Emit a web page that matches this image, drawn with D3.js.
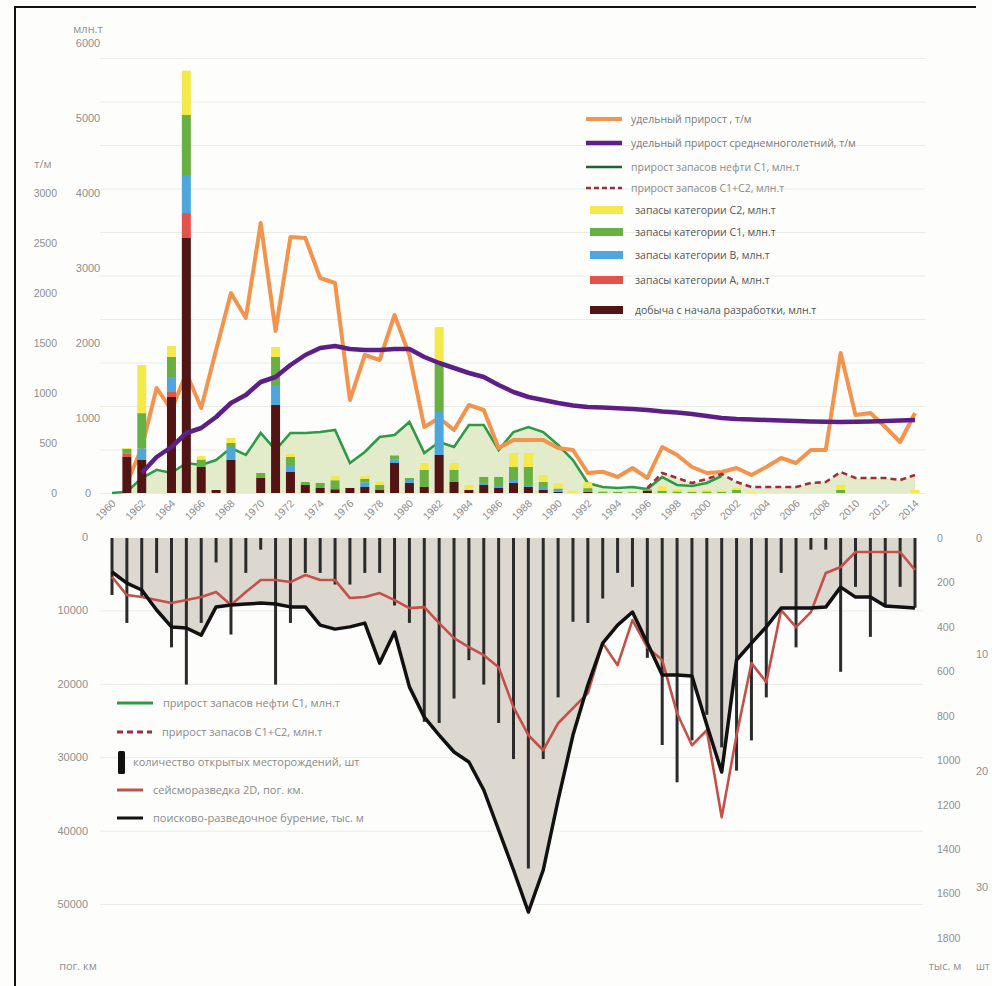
<!DOCTYPE html>
<html>
<head>
<meta charset="utf-8">
<script src="https://cdn.jsdelivr.net/npm/d3@7/dist/d3.min.js"></script>
<style>
  body { margin: 0; background: #fdfdfb; }
  svg { display: block; font-family: "Open Sans", "Noto Sans", sans-serif; }
</style>
</head>
<body>
<div id="chart"></div>
<script>
// Two stacked panels sharing one year axis: reserves / specific growth on top,
// exploration activity (seismic, drilling, discoveries) hanging down below.

const years = [1960,1961,1962,1963,1964,1965,1966,1967,1968,1969,1970,1971,1972,1973,1974,1975,1976,1977,1978,1979,
  1980,1981,1982,1983,1984,1985,1986,1987,1988,1989,1990,1991,1992,1993,1994,1995,1996,1997,1998,1999,
  2000,2001,2002,2003,2004,2005,2006,2007,2008,2009,2010,2011,2012,2013,2014];
const yearTicks = [1960,1962,1964,1966,1968,1970,1972,1974,1976,1978,1980,1982,1984,1986,1988,1990,1992,1994,1996,1998,
  2000,2002,2004,2006,2008,2010,2012,2014];

// stacked bars, млн.т
const production = [0,480,440,0,1280,3400,347,40,440,0, 200,1173,280,107,67,50,67,80,40,400,
  133,80,507,147,40,107,67,133,80,40, 15,0,15,0,0,0,30,0,0,0, 0,0,0,0,0,0,0,0,0,0, 0,0,0,0,0];
const catA = [0,50,0,0,67,333,0,0,0,0, 0,0,0,0,0,0,0,0,0,0, 0,0,0,0,0,0,0,0,0,0,
  0,0,0,0,0,0,0,0,0,0, 0,0,0,0,0,0,0,0,0,0, 0,0,0,0,0];
const catB = [0,0,155,0,187,507,0,0,160,0, 0,267,93,0,0,0,0,60,0,50, 40,0,573,0,0,27,40,40,27,40,
  25,0,0,0,0,0,0,0,0,0, 0,0,0,0,0,0,0,0,0,0, 0,0,0,0,0];
const catC1 = [0,60,470,0,280,800,100,0,67,0, 67,373,107,40,67,120,0,50,67,50, 27,227,653,160,0,80,107,173,240,67,
  20,0,50,20,15,10,20,30,20,15, 20,15,40,0,0,0,0,0,0,40, 0,0,0,0,0];
const catC2 = [0,10,640,0,147,590,45,0,67,0, 0,133,40,0,0,60,0,40,40,0, 0,93,480,93,67,0,0,187,187,93,
  70,30,80,10,0,10,0,60,30,20, 20,20,30,10,0,0,0,0,0,70, 0,0,0,0,40];

// specific growth, т/м
const specGrowth = [null,100,450,1050,830,1200,850,1430,2000,1750, 2700,1620,2560,2550,2150,2100,930,1380,1330,1780,
  1380,660,750,630,880,830,450,530,530,530, 450,430,200,213,160,250,150,460,380,260,
  200,210,250,180,260,350,300,430,430,1400, 780,800,660,510,800];
const specGrowthAvg = [null,null,200,360,460,600,650,760,900,980, 1110,1160,1280,1380,1450,1470,1440,1430,1430,1440,
  1440,1360,1300,1250,1200,1160,1080,1010,960,930, 900,875,860,855,848,840,830,815,805,790,
  770,750,740,735,730,725,720,715,712,710, 712,716,720,725,730];

// reserve growth lines, млн.т
const growthC1 = [0,17,200,310,267,400,373,440,600,507, 800,573,800,800,813,840,400,547,747,773,
  947,533,680,613,907,907,573,813,880,813, 640,440,133,80,67,80,53,213,107,93,
  133,227,null,null,null,null,null,null,null,null, null,null,null,null,null];
const growthC1C2 = [null,null,null,null,null,null,null,null,null,null, null,null,null,null,null,null,null,null,null,null,
  null,null,null,null,null,null,null,null,null,null, null,null,null,null,null,null,67,267,200,133,
  187,253,147,80,80,80,80,133,147,280, 200,200,200,173,240];

// lower panel
const seismic2D = [5456,7911,8184,8593,9002,8593,8184,7502,9275,7502, 5865,5865,6138,5183,5865,5865,8320,8184,7638,8593,
  9684,9548,11730,13776,15004,16095,17732,23188,27007,29053, 25370,23324,21278,14458,17459,11321,15004,16777,24006,28371,
  26325,38192,27007,17186,19778,9957,12276,10230,4910,4092, 2046,2046,2046,2046,4501];
const drilling = [153,203,234,324,400,405,437,310,302,297, 293,297,310,310,392,410,400,383,563,423,
  670,806,887,963,1008,1134,1314,1494,1683,1494, 1179,887,662,473,392,333,473,617,617,621,
  842,1053,549,473,400,315,315,315,311,221, 266,266,306,311,315];
const fieldsFound = [4.9,7.3,5.1,3.0,9.4,12.6,7.3,2.1,8.3,3.0, 1.0,12.6,7.3,3.0,3.0,4.0,4.0,3.0,3.0,5.8,
  7.3,15.8,15.9,13.8,10.5,12.6,15.9,19.0,28.4,19.0, 13.7,7.2,7.3,5.2,3.0,4.2,10.3,17.8,21.0,17.4,
  15.2,18.0,20.0,17.4,13.7,3.0,9.4,1.0,1.0,11.5, 4.2,8.5,5.9,4.2,6.0];

const mtTicks = [0,1000,2000,3000,4000,5000,6000];
const tmTicks = [0,500,1000,1500,2000,2500,3000];
const gridTicks = [0,1,2,3,4,5,6,7,8,9,10];
const kmTicks = [0,10000,20000,30000,40000,50000];
const tysTicks = [0,200,400,600,800,1000,1200,1400,1600,1800];
const cntTicks = [0,10,20,30];

const W = 992, H = 986;
const svg = d3.select("#chart").append("svg").attr("width", W).attr("height", H);
svg.append("rect").attr("width", W).attr("height", H).attr("fill", "#fdfdfb");

const x = d3.scaleLinear().domain([1960, 2014]).range([112, 915]);
const yMt = d3.scaleLinear().domain([0, 6000]).range([493, 43]);
const yTm = d3.scaleLinear().domain([0, 3000]).range([493, 193]);
const yGrid = d3.scaleLinear().domain([0, 10]).range([493, 58]);
const yKm = d3.scaleLinear().domain([0, 50000]).range([537, 904]);
const yTys = d3.scaleLinear().domain([0, 1800]).range([538, 938]);
const yCnt = d3.scaleLinear().domain([0, 30]).range([538, 887]);

const muted = "#8f8f8f";
const plain = d3.format("d");
const styleText = (g, size) => g.selectAll(".tick text").attr("fill", muted).attr("font-size", size);

// frame
svg.append("path").attr("d", d3.line()([[15, H], [15, 7], [976, 7]]))
  .attr("fill", "none").attr("stroke", "#111").attr("stroke-width", 2);

// ---- top panel ----
svg.append("g").attr("transform", "translate(100,0)")
  .call(d3.axisLeft(yGrid).tickValues(gridTicks).tickSize(-825).tickFormat(""))
  .call(g => g.select(".domain").remove())
  .call(g => g.selectAll(".tick line").attr("stroke", "#ebebe6"));

svg.append("g").attr("transform", "translate(88,0)")
  .call(d3.axisLeft(yMt).tickValues(mtTicks).tickFormat(plain).tickSize(0).tickPadding(0))
  .call(g => g.select(".domain").remove())
  .call(g => styleText(g, 11).attr("text-anchor", "middle"));

svg.append("g").attr("transform", "translate(57,0)")
  .call(d3.axisLeft(yTm).tickValues(tmTicks).tickFormat(plain).tickSize(0).tickPadding(0))
  .call(g => g.select(".domain").remove())
  .call(g => styleText(g, 10.5));

svg.append("text").attr("x", 88).attr("y", 33).attr("text-anchor", "middle")
  .attr("fill", muted).attr("font-size", 11).text("млн.т");
svg.append("text").attr("x", 43).attr("y", 168).attr("text-anchor", "middle")
  .attr("fill", muted).attr("font-size", 11).text("т/м");

const xAxis = svg.append("g").attr("transform", "translate(0,497)")
  .call(d3.axisBottom(x).tickValues(yearTicks).tickFormat(plain).tickSize(0).tickPadding(0))
  .call(g => g.select(".domain").remove());
xAxis.selectAll(".tick text")
  .attr("fill", muted).attr("font-size", 10.5)
  .attr("text-anchor", "end").attr("dy", 0).attr("y", 0)
  .attr("transform", "translate(4,7) rotate(-45)");

// pale area under reserve growth
const fillVals = years.map((_, i) => Math.max(growthC1[i] ?? 0, growthC1C2[i] ?? 0));
svg.append("path").datum(years)
  .attr("d", d3.area().x(d => x(d)).y0(yMt(0)).y1((d, i) => yMt(fillVals[i])))
  .attr("fill", "#e3ecca");

const lineOf = (arr, scale) => d3.line()
  .defined((d, i) => arr[i] != null)
  .x(d => x(d)).y((d, i) => scale(arr[i]));

svg.append("path").datum(years).attr("d", lineOf(growthC1, yMt))
  .attr("fill", "none").attr("stroke", "#2e9a47").attr("stroke-width", 2.6);

svg.append("path").datum(years).attr("d", lineOf(specGrowth, yTm))
  .attr("fill", "none").attr("stroke", "#f2944d").attr("stroke-width", 4).attr("stroke-linejoin", "round");

// stacked bars
const stackKeys = ["prod", "A", "B", "C1", "C2"];
const stackColors = { prod: "#531414", A: "#e4534a", B: "#4ea6dc", C1: "#69b042", C2: "#f4e94a" };
const barRows = years.map((yr, i) => ({ year: yr, prod: production[i], A: catA[i], B: catB[i], C1: catC1[i], C2: catC2[i] }));
const stacked = d3.stack().keys(stackKeys)(barRows);
svg.append("g").selectAll("g").data(stacked).join("g")
  .attr("fill", s => stackColors[s.key])
  .selectAll("rect").data(s => s).join("rect")
  .attr("x", d => x(d.data.year) - 4.5)
  .attr("width", 9)
  .attr("y", d => yMt(d[1]))
  .attr("height", d => yMt(d[0]) - yMt(d[1]));

svg.append("path").datum(years).attr("d", lineOf(growthC1C2, yMt))
  .attr("fill", "none").attr("stroke", "#a02c3c").attr("stroke-width", 2.6).attr("stroke-dasharray", "6,4");

svg.append("path").datum(years).attr("d", lineOf(specGrowthAvg, yTm))
  .attr("fill", "none").attr("stroke", "#5d1f87").attr("stroke-width", 4.5).attr("stroke-linejoin", "round");

// top legend
const topLegend = [
  { t: "удельный прирост ,  т/м", kind: "line", c: "#f2944d", w: 4, y: 119, tc: "#7a7a7a" },
  { t: "удельный прирост среднемноголетний, т/м", kind: "line", c: "#5d1f87", w: 4.5, y: 143, tc: "#7a7a7a" },
  { t: "прирост запасов нефти С1, млн.т", kind: "line", c: "#1f5f3a", w: 2.5, y: 167, tc: "#8a8a8a" },
  { t: "прирост запасов С1+С2, млн.т", kind: "dash", c: "#a02c3c", w: 2.5, y: 188, tc: "#8a8a8a" },
  { t: "запасы категории С2, млн.т", kind: "box", c: "#f4e94a", y: 210, tc: "#555" },
  { t: "запасы категории С1, млн.т", kind: "box", c: "#69b042", y: 232, tc: "#555" },
  { t: "запасы категории В, млн.т", kind: "box", c: "#4ea6dc", y: 255, tc: "#555" },
  { t: "запасы категории А, млн.т", kind: "box", c: "#e4534a", y: 280, tc: "#555" },
  { t: "добыча с начала разработки, млн.т", kind: "box", c: "#531414", y: 310, tc: "#555" }
];
const tl = svg.append("g").selectAll("g").data(topLegend).join("g")
  .attr("transform", d => `translate(0,${d.y})`);
tl.filter(d => d.kind !== "box").append("line")
  .attr("x1", 586).attr("x2", 622).attr("stroke", d => d.c).attr("stroke-width", d => d.w)
  .attr("stroke-dasharray", d => d.kind === "dash" ? "5,3" : null);
tl.filter(d => d.kind === "box").append("rect")
  .attr("x", 590).attr("y", -4).attr("width", 33).attr("height", 8).attr("fill", d => d.c);
tl.append("text").attr("x", d => d.kind === "box" ? 635 : 631).attr("y", 4)
  .attr("font-size", 10.5).attr("fill", d => d.tc).text(d => d.t);

// ---- bottom panel ----
svg.append("g").attr("transform", "translate(100,0)")
  .call(d3.axisLeft(yKm).tickValues(kmTicks.slice(1)).tickSize(-823).tickFormat(""))
  .call(g => g.select(".domain").remove())
  .call(g => g.selectAll(".tick line").attr("stroke", "#ebebe6"));

svg.append("g").attr("transform", "translate(88,0)")
  .call(d3.axisLeft(yKm).tickValues(kmTicks).tickFormat(plain).tickSize(0).tickPadding(0))
  .call(g => g.select(".domain").remove())
  .call(g => styleText(g, 11));

svg.append("g").attr("transform", "translate(937,0)")
  .call(d3.axisRight(yTys).tickValues(tysTicks).tickFormat(plain).tickSize(0).tickPadding(0))
  .call(g => g.select(".domain").remove())
  .call(g => styleText(g, 10.5));

// far-right axis (fields count) sits at the picture's edge
svg.append("g").attr("transform", "translate(976,0)")
  .call(d3.axisRight(yCnt).tickValues(cntTicks).tickFormat(plain).tickSize(0).tickPadding(0))
  .call(g => g.select(".domain").remove())
  .call(g => styleText(g, 11));

svg.append("text").attr("x", 78).attr("y", 970).attr("text-anchor", "middle")
  .attr("fill", muted).attr("font-size", 11).text("пог. км");
svg.append("text").attr("x", 945).attr("y", 970).attr("text-anchor", "middle")
  .attr("fill", muted).attr("font-size", 11).text("тыс. м");
svg.append("text").attr("x", 976).attr("y", 970)
  .attr("fill", muted).attr("font-size", 10).text("шт");

svg.append("path").datum(years)
  .attr("d", d3.area().x(d => x(d)).y0(yTys(0)).y1((d, i) => yTys(drilling[i])))
  .attr("fill", "#dcd7cf");

svg.append("g").selectAll("line").data(years).join("line")
  .attr("x1", d => x(d)).attr("x2", d => x(d))
  .attr("y1", yCnt(0)).attr("y2", (d, i) => yCnt(fieldsFound[i]))
  .attr("stroke", "#2b2b2b").attr("stroke-width", 3);

svg.append("path").datum(years).attr("d", lineOf(seismic2D, yKm))
  .attr("fill", "none").attr("stroke", "#c4504a").attr("stroke-width", 2.6).attr("stroke-linejoin", "round");

svg.append("path").datum(years).attr("d", lineOf(drilling, yTys))
  .attr("fill", "none").attr("stroke", "#111").attr("stroke-width", 3.5).attr("stroke-linejoin", "round");

// bottom legend
const bottomLegend = [
  { t: "прирост запасов нефти С1, млн.т", kind: "line", c: "#2e9a47", y: 703, tx: 163 },
  { t: "прирост запасов С1+С2, млн.т", kind: "dash", c: "#a02c3c", y: 732, tx: 162 },
  { t: "количество открытых месторождений, шт", kind: "bar", c: "#111", y: 762, tx: 133 },
  { t: "сейсморазведка 2D, пог. км.", kind: "line", c: "#c4504a", y: 790, tx: 153 },
  { t: "поисково-разведочное бурение, тыс. м", kind: "line", c: "#111", y: 818, tx: 153 }
];
const bl = svg.append("g").selectAll("g").data(bottomLegend).join("g")
  .attr("transform", d => `translate(0,${d.y})`);
bl.filter(d => d.kind !== "bar").append("line")
  .attr("x1", 117).attr("x2", d => d.tx - 10).attr("stroke", d => d.c).attr("stroke-width", 3)
  .attr("stroke-dasharray", d => d.kind === "dash" ? "6,4" : null);
bl.filter(d => d.kind === "bar").append("rect")
  .attr("x", 118).attr("y", -11).attr("width", 7).attr("height", 23).attr("rx", 1.5).attr("fill", d => d.c);
bl.append("text").attr("x", d => d.tx).attr("y", 4)
  .attr("font-size", 11).attr("fill", "#8a8a8a").text(d => d.t);
</script>
</body>
</html>
